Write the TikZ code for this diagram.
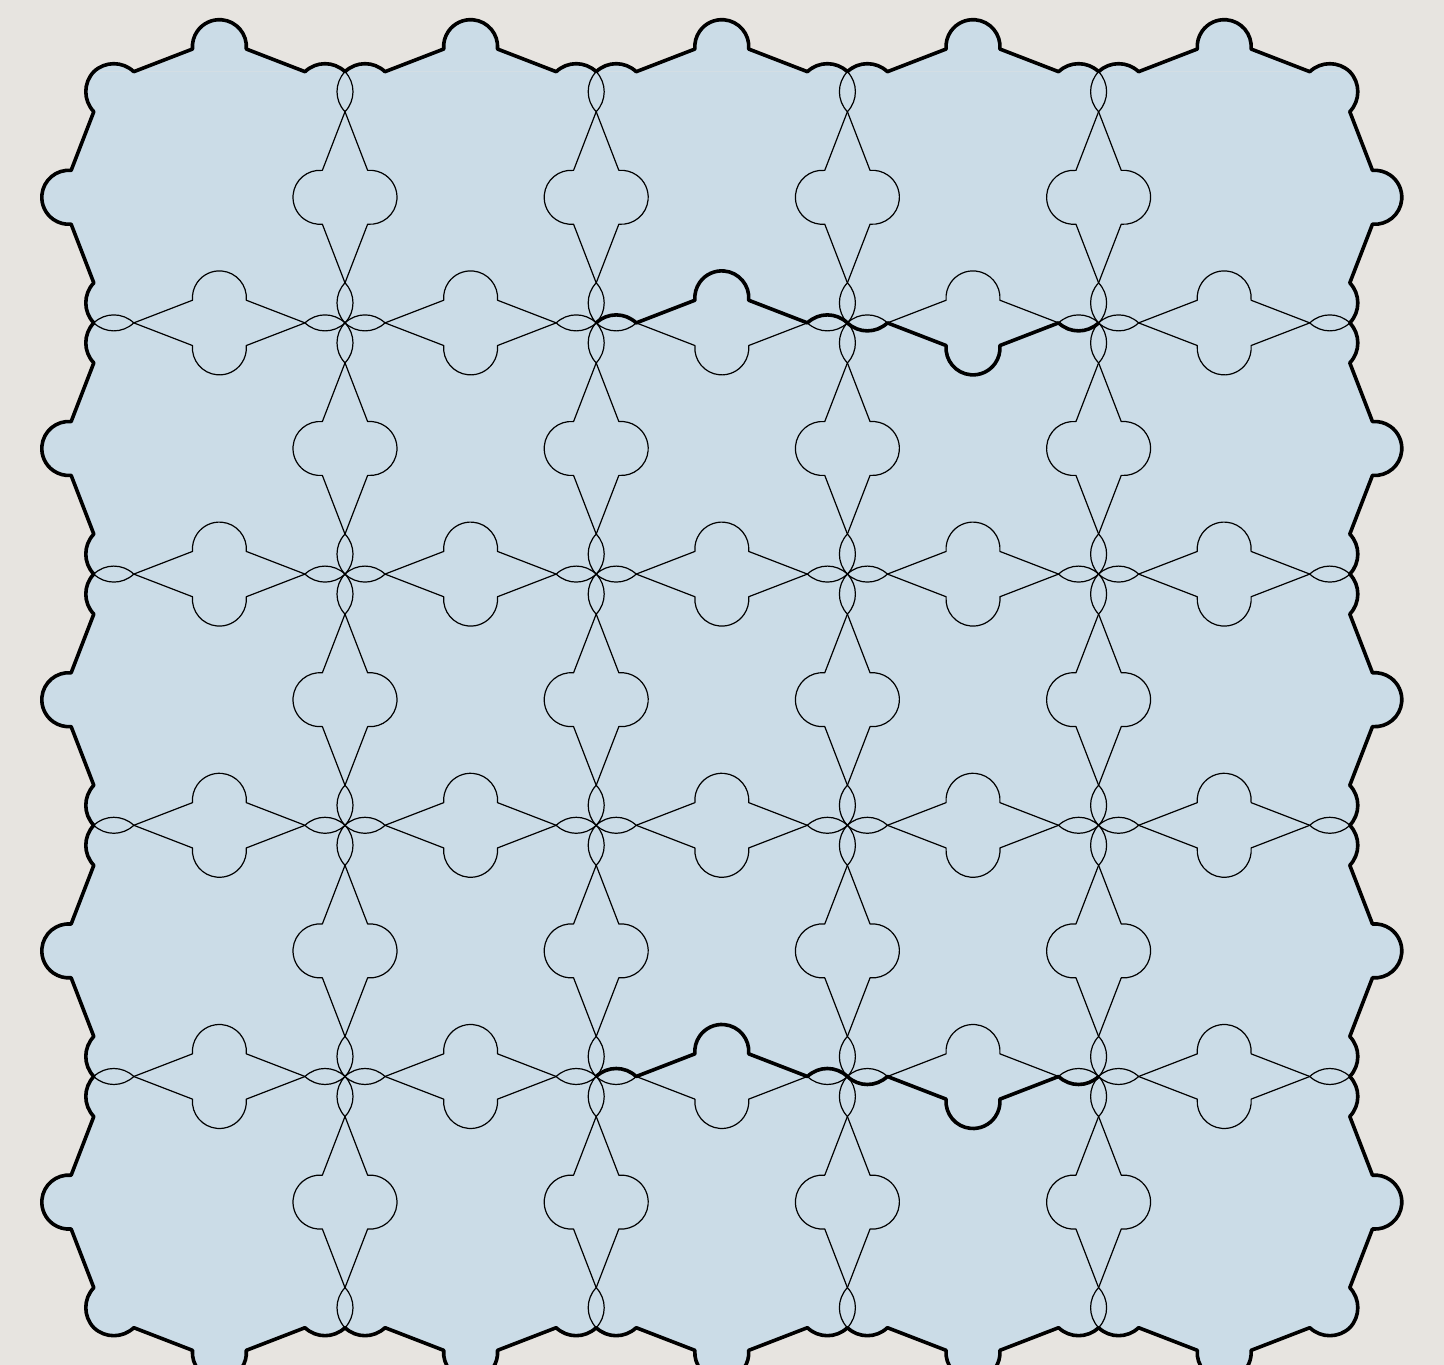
\documentclass[tikz,border=0pt]{standalone}
\usepackage{tikz}
\definecolor{tilebg}{HTML}{E7E4E0}
\definecolor{tileblue}{HTML}{CBDCE7}

\tikzset{
  pics/tileedge/.style={code={%
    \path[pic actions] (0,0) arc[start angle=226.4, end angle=313.6, radius=29]
      -- (98.7,-22.65) arc[start angle=175, end angle=365, radius=27]
      -- (211.2,0) arc[start angle=226.4, end angle=313.6, radius=29];
  }}
}

\begin{document}
\begin{tikzpicture}[x=1pt, y=1pt,
    thinline/.style={draw=black, line width=1.2pt, line join=round},
    boldline/.style={draw=black, line width=3.6pt, line cap=round, line join=round},
    bulge/.style={fill=tileblue}
  ]
    \def\L{251.2}
    \useasboundingbox (-93.8,-37.3) rectangle (1350.2,1327.7);
    \fill[tilebg] (-93.8,-37.3) rectangle (1350.2,1327.7);
    \clip (-93.8,-37.3) rectangle (1350.2,1327.7);
    \fill[tileblue] (0,0) rectangle (5*\L,5*\L);
    \foreach \k in {0,...,4} {
      \pic[bulge] at (\k*\L,0) {tileedge};
      \pic[bulge, rotate=90] at (5*\L,\k*\L) {tileedge};
      \pic[bulge, rotate=180] at (\k*\L+\L,5*\L) {tileedge};
      \pic[bulge, rotate=270] at (0,\k*\L+\L) {tileedge};
    }
    \foreach \i in {0,...,4}
      \foreach \j in {0,...,4} {
        \pic[thinline] at (\i*\L,\j*\L) {tileedge};
        \pic[thinline, rotate=90] at (\i*\L+\L,\j*\L) {tileedge};
        \pic[thinline, rotate=180] at (\i*\L+\L,\j*\L+\L) {tileedge};
        \pic[thinline, rotate=270] at (\i*\L,\j*\L+\L) {tileedge};
      }
    \foreach \k in {0,...,4} {
      \pic[boldline] at (\k*\L,0) {tileedge};
      \pic[boldline, rotate=90] at (5*\L,\k*\L) {tileedge};
      \pic[boldline, rotate=180] at (\k*\L+\L,5*\L) {tileedge};
      \pic[boldline, rotate=270] at (0,\k*\L+\L) {tileedge};
    }
    \foreach \r in {1,4} {
      \pic[boldline, rotate=180] at (3*\L,\r*\L) {tileedge};
      \pic[boldline] at (3*\L,\r*\L) {tileedge};
    }
  \end{tikzpicture}
\end{document}
